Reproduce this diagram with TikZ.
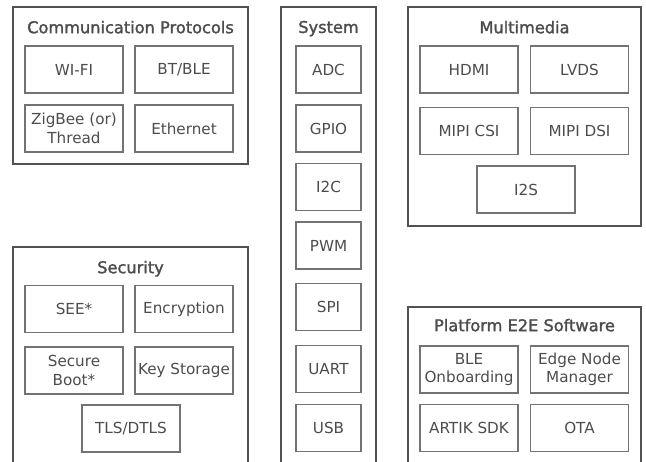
\documentclass[tikz,border=0pt]{standalone}
\usepackage{fontspec}
\setmainfont{DejaVu Sans}
\newfontfamily\titlefont[FakeBold=1.6]{DejaVu Sans}
\usetikzlibrary{positioning}
\usetikzlibrary{fit}
\colorlet{frame colour}{black!68}
\colorlet{item colour}{black!55}
\colorlet{label colour}{black!70}
\tikzset{
    % Outer group frames and the boxes inside them
    group/.style={draw=frame colour, line width=1.6pt, inner sep=0},
    group title/.style={
        anchor=north, text=label colour, inner sep=0,
        font=\titlefont\fontsize{16.2}{18}\selectfont},
    item/.style={
        draw=item colour, line width=1.1pt, text=label colour,
        minimum width=98pt, minimum height=47pt, inner sep=0,
        font=\fontsize{15.2}{18.5}\selectfont},
    narrow item/.style={item, minimum width=65pt},
    % We almost always want centre aligned node text
    every node/.style={align=center},
}

\begin{document}
\begin{tikzpicture}[x=1pt, y=-1pt]

\clip (0,0) rectangle (646,462);


% Group frames
\path
    node [group, fit={(13,7) (248,164)}] (comm) {}
    node [group, fit={(13,247) (248,490)}] (security) {}
    node [group, fit={(281,7) (376,490)}] (system) {}
    node [group, fit={(408,7) (641,226)}] (media) {}
    node [group, fit={(408,307) (641,490)}] (platform) {};

\path
    (comm.north) ++(0,14.5) node [group title] {Communication Protocols}
    (security.north) ++(0,14.5) node [group title] {Security}
    (system.north) ++(0,14.5) node [group title] {System}
    (media.north) ++(0,14.5) node [group title] {Multimedia}
    (platform.north) ++(0,12.5) node [group title] {Platform E2E Software};


% Communication protocols
\path
    (74,69.5) node [item] (wifi) {WI-FI}
    +(110,0) node [item] (bt) {BT/BLE}
    ++(0,59) node [item] (zigbee) {ZigBee (or)\\Thread}
    +(110,0) node [item] (ethernet) {Ethernet};


% Security
\path
    (74,309) node [item] (see) {SEE*}
    +(110,0) node [item] (encryption) {Encryption}
    ++(0,61.5) node [item] (secure boot) {Secure\\Boot*}
    +(110,0) node [item] (key storage) {Key Storage}
    ++(57,58) node [item] (tls) {TLS/DTLS};


% System
\path
    (328.5,69.5) node [narrow item] (adc) {ADC}
    ++(0,59) node [narrow item] (gpio) {GPIO}
    ++(0,58.5) node [narrow item] (i2c) {I2C}
    ++(0,58.5) node [narrow item] (pwm) {PWM}
    ++(0,61.5) node [narrow item] (spi) {SPI}
    ++(0,62) node [narrow item] (uart) {UART}
    ++(0,59) node [narrow item] (usb) {USB};


% Multimedia
\path
    (469,69.5) node [item] (hdmi) {HDMI}
    +(110.5,0) node [item] (lvds) {LVDS}
    ++(0,61.5) node [item] (mipi csi) {MIPI CSI}
    +(110.5,0) node [item] (mipi dsi) {MIPI DSI}
    ++(57,58.5) node [item] (i2s) {I2S};


% Platform E2E software
\path
    (469,369.5) node [item] (ble) {BLE\\Onboarding}
    +(110.5,0) node [item] (edge) {Edge Node\\Manager}
    ++(0,58.5) node [item] (artik) {ARTIK SDK}
    +(110.5,0) node [item] (ota) {OTA};


\end{tikzpicture}
\end{document}
